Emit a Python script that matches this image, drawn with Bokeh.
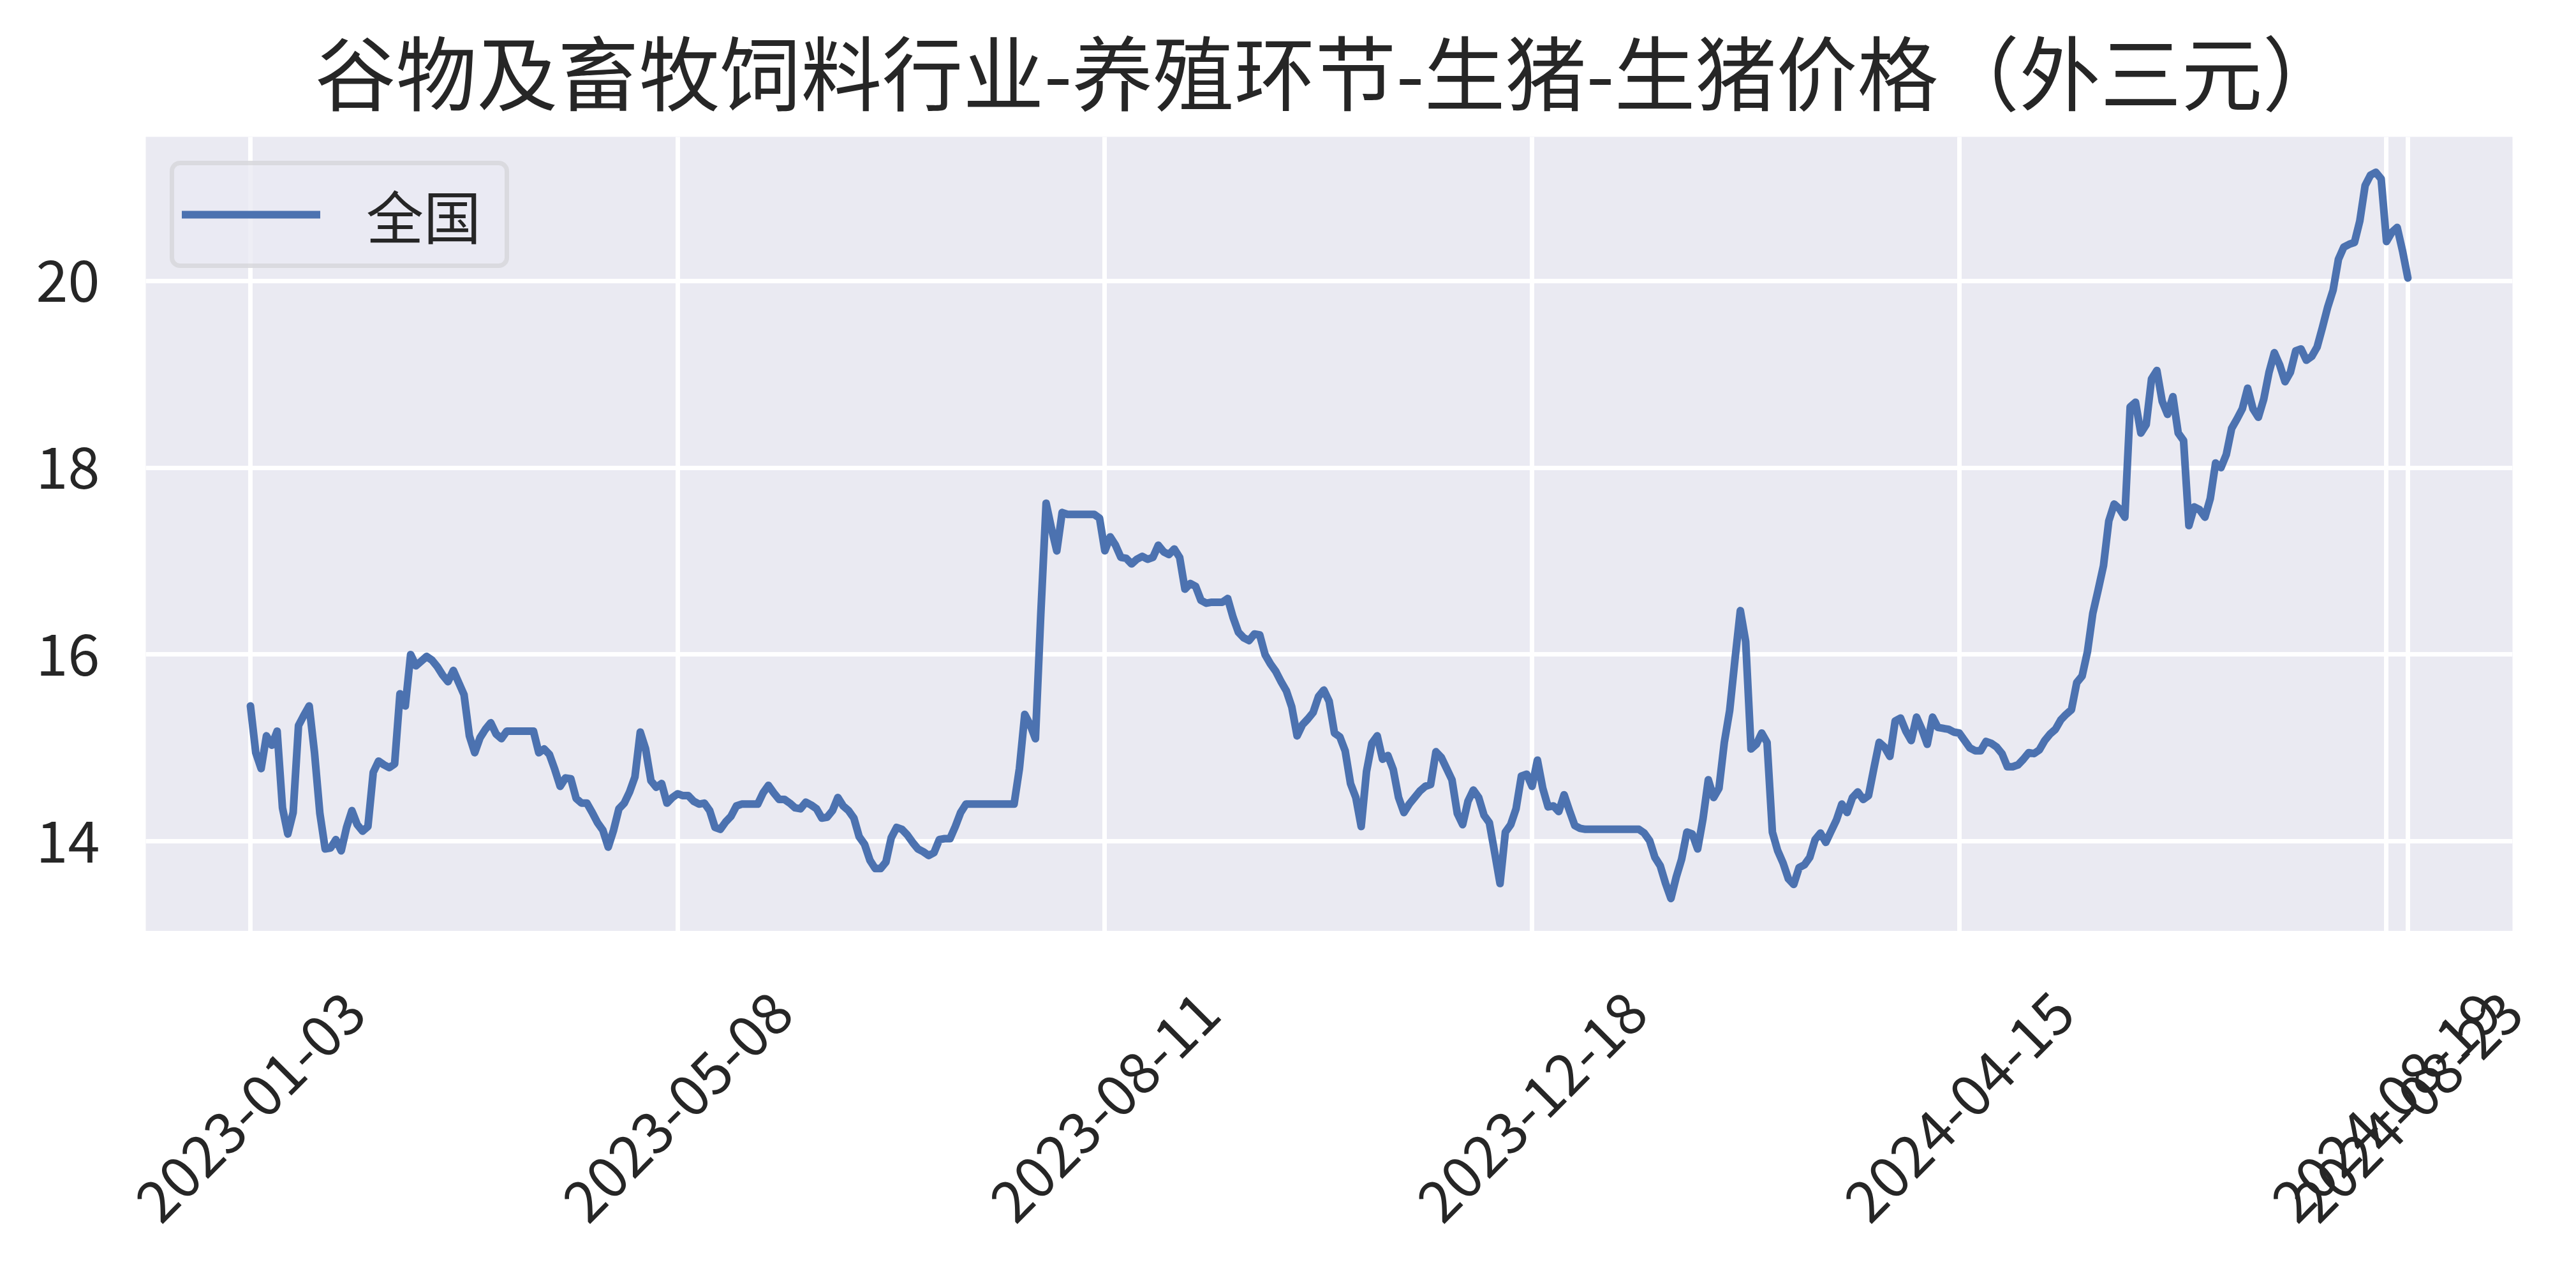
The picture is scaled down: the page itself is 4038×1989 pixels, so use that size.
import math
from bokeh.plotting import figure
from bokeh.layouts import column
from bokeh.models import Range1d, FixedTicker, Legend, LegendItem, ColumnDataSource
from bokeh.core.properties import value
from bokeh.embed import file_html
from bokeh.resources import INLINE

# ---- data ----
title_text = "谷物及畜牧饲料行业-养殖环节-生猪-生猪价格（外三元）"
series_name = "全国"

tick_pos = [0, 80, 160, 240, 320, 400, 404]
tick_labels = ["2023-01-03", "2023-05-08", "2023-08-11", "2023-12-18",
               "2024-04-15", "2024-08-19", "2024-08-23"]
y_ticks = [14, 16, 18, 20]

price = [
    15.45, 14.95, 14.78, 15.13, 15.03, 15.18, 14.36, 14.08, 14.31, 15.24,
    15.35, 15.45, 14.95, 14.30, 13.92, 13.93, 14.02, 13.90, 14.15, 14.33,
    14.18, 14.11, 14.16, 14.74, 14.86, 14.82, 14.79, 14.83, 15.58, 15.45,
    16.00, 15.88, 15.93, 15.98, 15.94, 15.87, 15.78, 15.71, 15.83, 15.70,
    15.57, 15.13, 14.95, 15.11, 15.20, 15.27, 15.15, 15.10, 15.18, 15.18,
    15.18, 15.18, 15.18, 15.18, 14.95, 14.99, 14.93, 14.77, 14.59, 14.68,
    14.67, 14.46, 14.41, 14.41, 14.31, 14.20, 14.12, 13.94, 14.12, 14.35,
    14.41, 14.53, 14.69, 15.17, 14.99, 14.65, 14.58, 14.62, 14.41, 14.47,
    14.51, 14.49, 14.49, 14.43, 14.40, 14.41, 14.33, 14.15, 14.13, 14.21,
    14.27, 14.38, 14.40, 14.40, 14.40, 14.40, 14.52, 14.60, 14.52, 14.45,
    14.45, 14.41, 14.36, 14.35, 14.42, 14.39, 14.35, 14.25, 14.26, 14.33,
    14.47, 14.38, 14.33, 14.25, 14.05, 13.97, 13.80, 13.71, 13.71, 13.78,
    14.04, 14.15, 14.13, 14.07, 13.99, 13.92, 13.89, 13.85, 13.88, 14.02,
    14.03, 14.03, 14.16, 14.31, 14.40, 14.40, 14.40, 14.40, 14.40, 14.40,
    14.40, 14.40, 14.40, 14.40, 14.78, 15.36, 15.25, 15.10, 16.43, 17.62,
    17.35, 17.11, 17.52, 17.50, 17.50, 17.50, 17.50, 17.50, 17.50, 17.46,
    17.11, 17.26, 17.17, 17.04, 17.03, 16.97, 17.02, 17.05, 17.02, 17.04,
    17.17, 17.10, 17.07, 17.13, 17.04, 16.70, 16.76, 16.73, 16.58, 16.55,
    16.56, 16.56, 16.56, 16.60, 16.40, 16.24, 16.18, 16.15, 16.22, 16.21,
    16.00, 15.90, 15.82, 15.71, 15.61, 15.44, 15.13, 15.25, 15.31, 15.38,
    15.55, 15.62, 15.50, 15.16, 15.12, 14.97, 14.62, 14.47, 14.16, 14.75,
    15.05, 15.13, 14.88, 14.92, 14.77, 14.47, 14.31, 14.40, 14.47, 14.54,
    14.59, 14.61, 14.96, 14.90, 14.78, 14.66, 14.30, 14.18, 14.43, 14.55,
    14.47, 14.28, 14.20, 13.88, 13.55, 14.10, 14.18, 14.35, 14.70, 14.72,
    14.59, 14.87, 14.57, 14.37, 14.38, 14.32, 14.50, 14.33, 14.17, 14.14,
    14.13, 14.13, 14.13, 14.13, 14.13, 14.13, 14.13, 14.13, 14.13, 14.13,
    14.13, 14.09, 14.01, 13.83, 13.74, 13.55, 13.39, 13.62, 13.81, 14.10,
    14.08, 13.92, 14.24, 14.66, 14.47, 14.57, 15.06, 15.40, 15.95, 16.47,
    16.14, 14.99, 15.04, 15.16, 15.06, 14.10, 13.90, 13.77, 13.60, 13.54,
    13.72, 13.75, 13.83, 14.02, 14.09, 13.99, 14.11, 14.23, 14.40, 14.31,
    14.47, 14.53, 14.45, 14.49, 14.78, 15.06, 15.01, 14.91, 15.29, 15.32,
    15.18, 15.08, 15.33, 15.20, 15.04, 15.33, 15.22, 15.21, 15.20, 15.17,
    15.16, 15.08, 15.00, 14.97, 14.97, 15.07, 15.05, 15.01, 14.94, 14.80,
    14.80, 14.82, 14.88, 14.95, 14.94, 14.98, 15.08, 15.15, 15.20, 15.30,
    15.36, 15.41, 15.70, 15.77, 16.03, 16.44, 16.69, 16.95, 17.43, 17.61,
    17.56, 17.47, 18.65, 18.70, 18.37, 18.46, 18.95, 19.04, 18.71, 18.57,
    18.76, 18.37, 18.29, 17.38, 17.58, 17.55, 17.47, 17.67, 18.05, 18.00,
    18.14, 18.42, 18.52, 18.63, 18.85, 18.63, 18.54, 18.73, 19.02, 19.23,
    19.10, 18.92, 19.02, 19.25, 19.27, 19.15, 19.19, 19.29, 19.50, 19.72,
    19.90, 20.23, 20.36, 20.39, 20.41, 20.64, 21.02, 21.13, 21.16, 21.09,
    20.42, 20.52, 20.57, 20.32, 20.03,
]
idx = list(range(len(price)))

# ---- layout / styling ----
FONT = "Noto Sans CJK SC"
TEXT = "#262626"
BG = "#EAEAF2"
BLUE = "#4C72B0"

W = 4022
MAIN_H = 1459
LAB_H = 514
BL, BR, BT = 228, 84, 208
X0, X1 = -19.6, 423.6
Y0, Y1 = 13.04, 21.54

src = ColumnDataSource(data=dict(x=idx, y=price))

p = figure(width=W, height=MAIN_H, output_backend="svg", toolbar_location=None,
           x_range=Range1d(X0, X1), y_range=Range1d(Y0, Y1),
           x_axis_location=None,
           min_border_left=BL, min_border_right=BR,
           min_border_top=BT, min_border_bottom=0)
p.background_fill_color = BG
p.border_fill_color = "white"
p.outline_line_color = None

r = p.line(x="x", y="y", source=src, line_color=BLUE, line_width=12,
           line_cap="round", line_join="round")

# grid
p.xgrid.ticker = FixedTicker(ticks=tick_pos)
p.ygrid.ticker = FixedTicker(ticks=y_ticks)
for g in (p.xgrid[0], p.ygrid[0]):
    g.grid_line_color = "white"
    g.grid_line_width = 7

# y axis
ya = p.yaxis[0]
ya.ticker = FixedTicker(ticks=y_ticks)
ya.axis_line_color = None
ya.major_tick_line_color = None
ya.minor_tick_line_color = None
ya.major_tick_out = 0
ya.major_tick_in = 0
ya.major_label_standoff = 72
ya.major_label_text_font = FONT
ya.major_label_text_font_size = "90px"
ya.major_label_text_color = TEXT

# title
p.title.text = title_text
p.title.align = "center"
p.title.text_font = FONT
p.title.text_font_size = "127px"
p.title.text_font_style = "normal"
p.title.text_color = TEXT
p.title.standoff = 28

# legend
legend = Legend(items=[LegendItem(label=series_name, renderers=[r])], location="top_left")
legend.margin = 38
legend.padding = 12
legend.spacing = 0
legend.glyph_width = 217
legend.glyph_height = 90
legend.label_height = 90
legend.label_width = 205
legend.label_standoff = 72
legend.label_text_font = FONT
legend.label_text_font_size = "90px"
legend.label_text_color = TEXT
legend.border_line_color = "#CCCCCC"
legend.border_line_width = 7
legend.background_fill_color = BG
legend.background_fill_alpha = 0.8
if "border_radius" in legend.properties():
    legend.border_radius = 16
p.add_layout(legend)

# ---- rotated date tick labels: a strip with the same x scale ----
ppu = (W - BL - BR) / (X1 - X0)          # pixels per x unit in the main frame
lab_range = Range1d(X0 - BL / ppu, X1 + BR / ppu)
q = figure(width=W, height=LAB_H, output_backend="svg", toolbar_location=None,
           x_range=lab_range, y_range=Range1d(0, LAB_H),
           x_axis_location=None, y_axis_location=None,
           min_border_left=0, min_border_right=0, min_border_top=0, min_border_bottom=0)
q.background_fill_color = "white"
q.border_fill_color = "white"
q.outline_line_color = None
q.xgrid.visible = False
q.ygrid.visible = False
q.text(x=tick_pos, y=[LAB_H - 275] * len(tick_pos), text=tick_labels,
       angle=math.pi / 4, text_align="center", text_baseline="middle",
       text_font=value(FONT), text_font_size="90px", text_color=TEXT)

for fig in (p, q):
    if "frame_align" in fig.properties():
        fig.frame_align = False

layout = column(p, q, spacing=0)
open("out.html", "w").write(file_html(layout, INLINE))
